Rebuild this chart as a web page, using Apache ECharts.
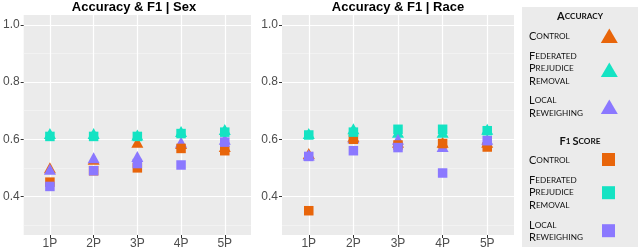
<!DOCTYPE html>
<html><head><meta charset="utf-8">
<script src="https://cdn.jsdelivr.net/npm/echarts@6/dist/echarts.min.js"></script>
<style>html,body{margin:0;padding:0;background:#fff}#c{width:640px;height:250px}</style>
</head><body><div id="c"></div>
<script>
const categories = ['1P', '2P', '3P', '4P', '5P'];
const yTicks = [0.4, 0.6, 0.8, 1.0];
const yMinor = [0.3, 0.5, 0.7, 0.9];
const panelTitles = ['Accuracy & F1 | Sex', 'Accuracy & F1 | Race'];
const groups = ['Control', 'Federated Prejudice Removal', 'Local Reweighing'];
const groupLines = [['Control'], ['Federated', 'Prejudice', 'Removal'], ['Local', 'Reweighing']];
const colors = ['#E8650A', '#14E3C3', '#8B78FF'];

// Sex panel
const accControlSex = [0.50, 0.53, 0.59, 0.585, 0.575];
const accFPRSex     = [0.62, 0.62, 0.615, 0.627, 0.634];
const accLRSex      = [0.495, 0.535, 0.54, 0.59, 0.60];
const f1ControlSex  = [0.45, 0.49, 0.50, 0.568, 0.56];
const f1FPRSex      = [0.61, 0.61, 0.61, 0.62, 0.625];
const f1LRSex       = [0.435, 0.49, 0.515, 0.51, 0.59];
// Race panel
const accControlRace = [0.55, 0.61, 0.59, 0.59, 0.59];
const accFPRRace     = [0.62, 0.637, 0.625, 0.625, 0.635];
const accLRRace      = [0.545, 0.605, 0.60, 0.575, 0.60];
const f1ControlRace  = [0.35, 0.60, 0.58, 0.585, 0.573];
const f1FPRRace      = [0.615, 0.625, 0.635, 0.635, 0.63];
const f1LRRace       = [0.54, 0.56, 0.571, 0.482, 0.595];

const panels = [
  { acc: [accControlSex, accFPRSex, accLRSex], f1: [f1ControlSex, f1FPRSex, f1LRSex] },
  { acc: [accControlRace, accFPRRace, accLRRace], f1: [f1ControlRace, f1FPRRace, f1LRRace] }
];

const gridDefs = [{ left: 19, top: 15, width: 232, height: 222 }, { left: 282, top: 15, width: 232, height: 222 }];

const grid = [], xAxis = [], yAxis = [], series = [];
gridDefs.forEach((g, p) => {
  grid.push(Object.assign({ show: true, backgroundColor: '#EBEBEB', borderWidth: 0 }, g));
  xAxis.push({
    type: 'value', gridIndex: p, min: 0.4, max: 5.6,
    axisLine: { show: false },
    axisTick: { show: true, length: 3, customValues: [1, 2, 3, 4, 5], lineStyle: { color: '#333', width: 1 } },
    axisLabel: { customValues: [1, 2, 3, 4, 5], formatter: v => categories[Math.round(v) - 1], color: '#4D4D4D', fontSize: 12, margin: 3, fontFamily: 'Liberation Sans' },
    splitLine: { show: true, lineStyle: { color: '#FFFFFF', width: 1.2 } }
  });
  yAxis.push({
    type: 'value', gridIndex: p, min: 0.265, max: 1.035,
    axisLine: { show: false },
    axisTick: { show: true, length: 3, customValues: yTicks, lineStyle: { color: '#333', width: 1 } },
    axisLabel: { customValues: yTicks, formatter: v => v.toFixed(1), color: '#4D4D4D', fontSize: 12, margin: 4, fontFamily: 'Liberation Sans' },
    splitLine: { show: true, lineStyle: { color: '#FFFFFF', width: 1.2 } }
  });
  yAxis.push({
    type: 'value', gridIndex: p, min: 0.265, max: 1.035, position: 'left',
    axisLine: { show: false },
    axisTick: { show: false, customValues: yMinor },
    axisLabel: { show: false, customValues: yMinor },
    splitLine: { show: true, lineStyle: { color: '#F5F5F5', width: 0.7 } }
  });
  const addSeries = (arrs, symbol, size, kind) => {
    arrs.forEach((arr, gi) => {
      series.push({
        type: 'scatter', name: kind + ' ' + groups[gi], xAxisIndex: p, yAxisIndex: p * 2,
        symbol: symbol, symbolSize: size, z: 3,
        itemStyle: { color: colors[gi], opacity: 1 },
        data: arr.map((v, i) => [i + 1, v])
      });
    });
  };
  addSeries(panels[p].acc, 'triangle', [12, 11], 'Accuracy');
  addSeries(panels[p].f1, 'rect', [9.5, 9.5], 'F1');
});

// legend drawing helpers (small caps via rich text)
function smallCaps(str) {
  return str.split(' ').map(w => '{b|' + w[0].toUpperCase() + '}' + (w.length > 1 ? '{s|' + w.slice(1).toUpperCase() + '}' : '')).join('{s| }');
}
function scText(str, x, y, bold, align) {
  const fw = bold ? 'bold' : 'normal';
  return {
    type: 'text', x: x, y: y, z: 10,
    style: {
      text: smallCaps(str), align: align || 'left', verticalAlign: 'middle',
      rich: {
        b: { fontSize: 11, fontFamily: 'Lato', fontWeight: fw, fill: '#111' },
        s: { fontSize: 8.2, fontFamily: 'Lato', fontWeight: fw, fill: '#111' }
      }
    }
  };
}
const graphic = [
  { type: 'rect', shape: { x: 522, y: 7, width: 116, height: 240 }, style: { fill: '#EBEBEB' }, z: 1 },
  { type: 'text', x: 134, y: 7, style: { text: panelTitles[0], align: 'center', verticalAlign: 'middle', font: 'bold 13px "Liberation Sans"', fill: '#000' } },
  { type: 'text', x: 398, y: 7, style: { text: panelTitles[1], align: 'center', verticalAlign: 'middle', font: 'bold 13px "Liberation Sans"', fill: '#000' } },
  scText('Accuracy', 580, 16, true, 'center'),
  scText('F1 Score', 580, 141, true, 'center')
];
const accLineY = [[36], [56.7, 68.8, 81], [100.5, 113.3]];
const accMarkY = [36, 70, 107];
const f1LineY = [[160.7], [180, 192.5, 205], [225, 237.7]];
const f1MarkY = [159.5, 192.7, 230.7];
groupLines.forEach((lines, gi) => {
  lines.forEach((ln, li) => {
    graphic.push(scText(ln, 529, accLineY[gi][li], false));
    graphic.push(scText(ln, 529, f1LineY[gi][li], false));
  });
  const cy = accMarkY[gi];
  graphic.push({ type: 'polygon', z: 10, shape: { points: [[609.3, cy - 7.5], [617.8, cy + 7], [600.8, cy + 7]] }, style: { fill: colors[gi] } });
  const sy = f1MarkY[gi];
  graphic.push({ type: 'rect', z: 10, shape: { x: 602, y: sy - 6.5, width: 13, height: 13 }, style: { fill: colors[gi] } });
});

const chart = echarts.init(document.getElementById('c'), null, { renderer: 'canvas' });
chart.setOption({ animation: false, grid, xAxis, yAxis, series, graphic });
</script></body></html>
